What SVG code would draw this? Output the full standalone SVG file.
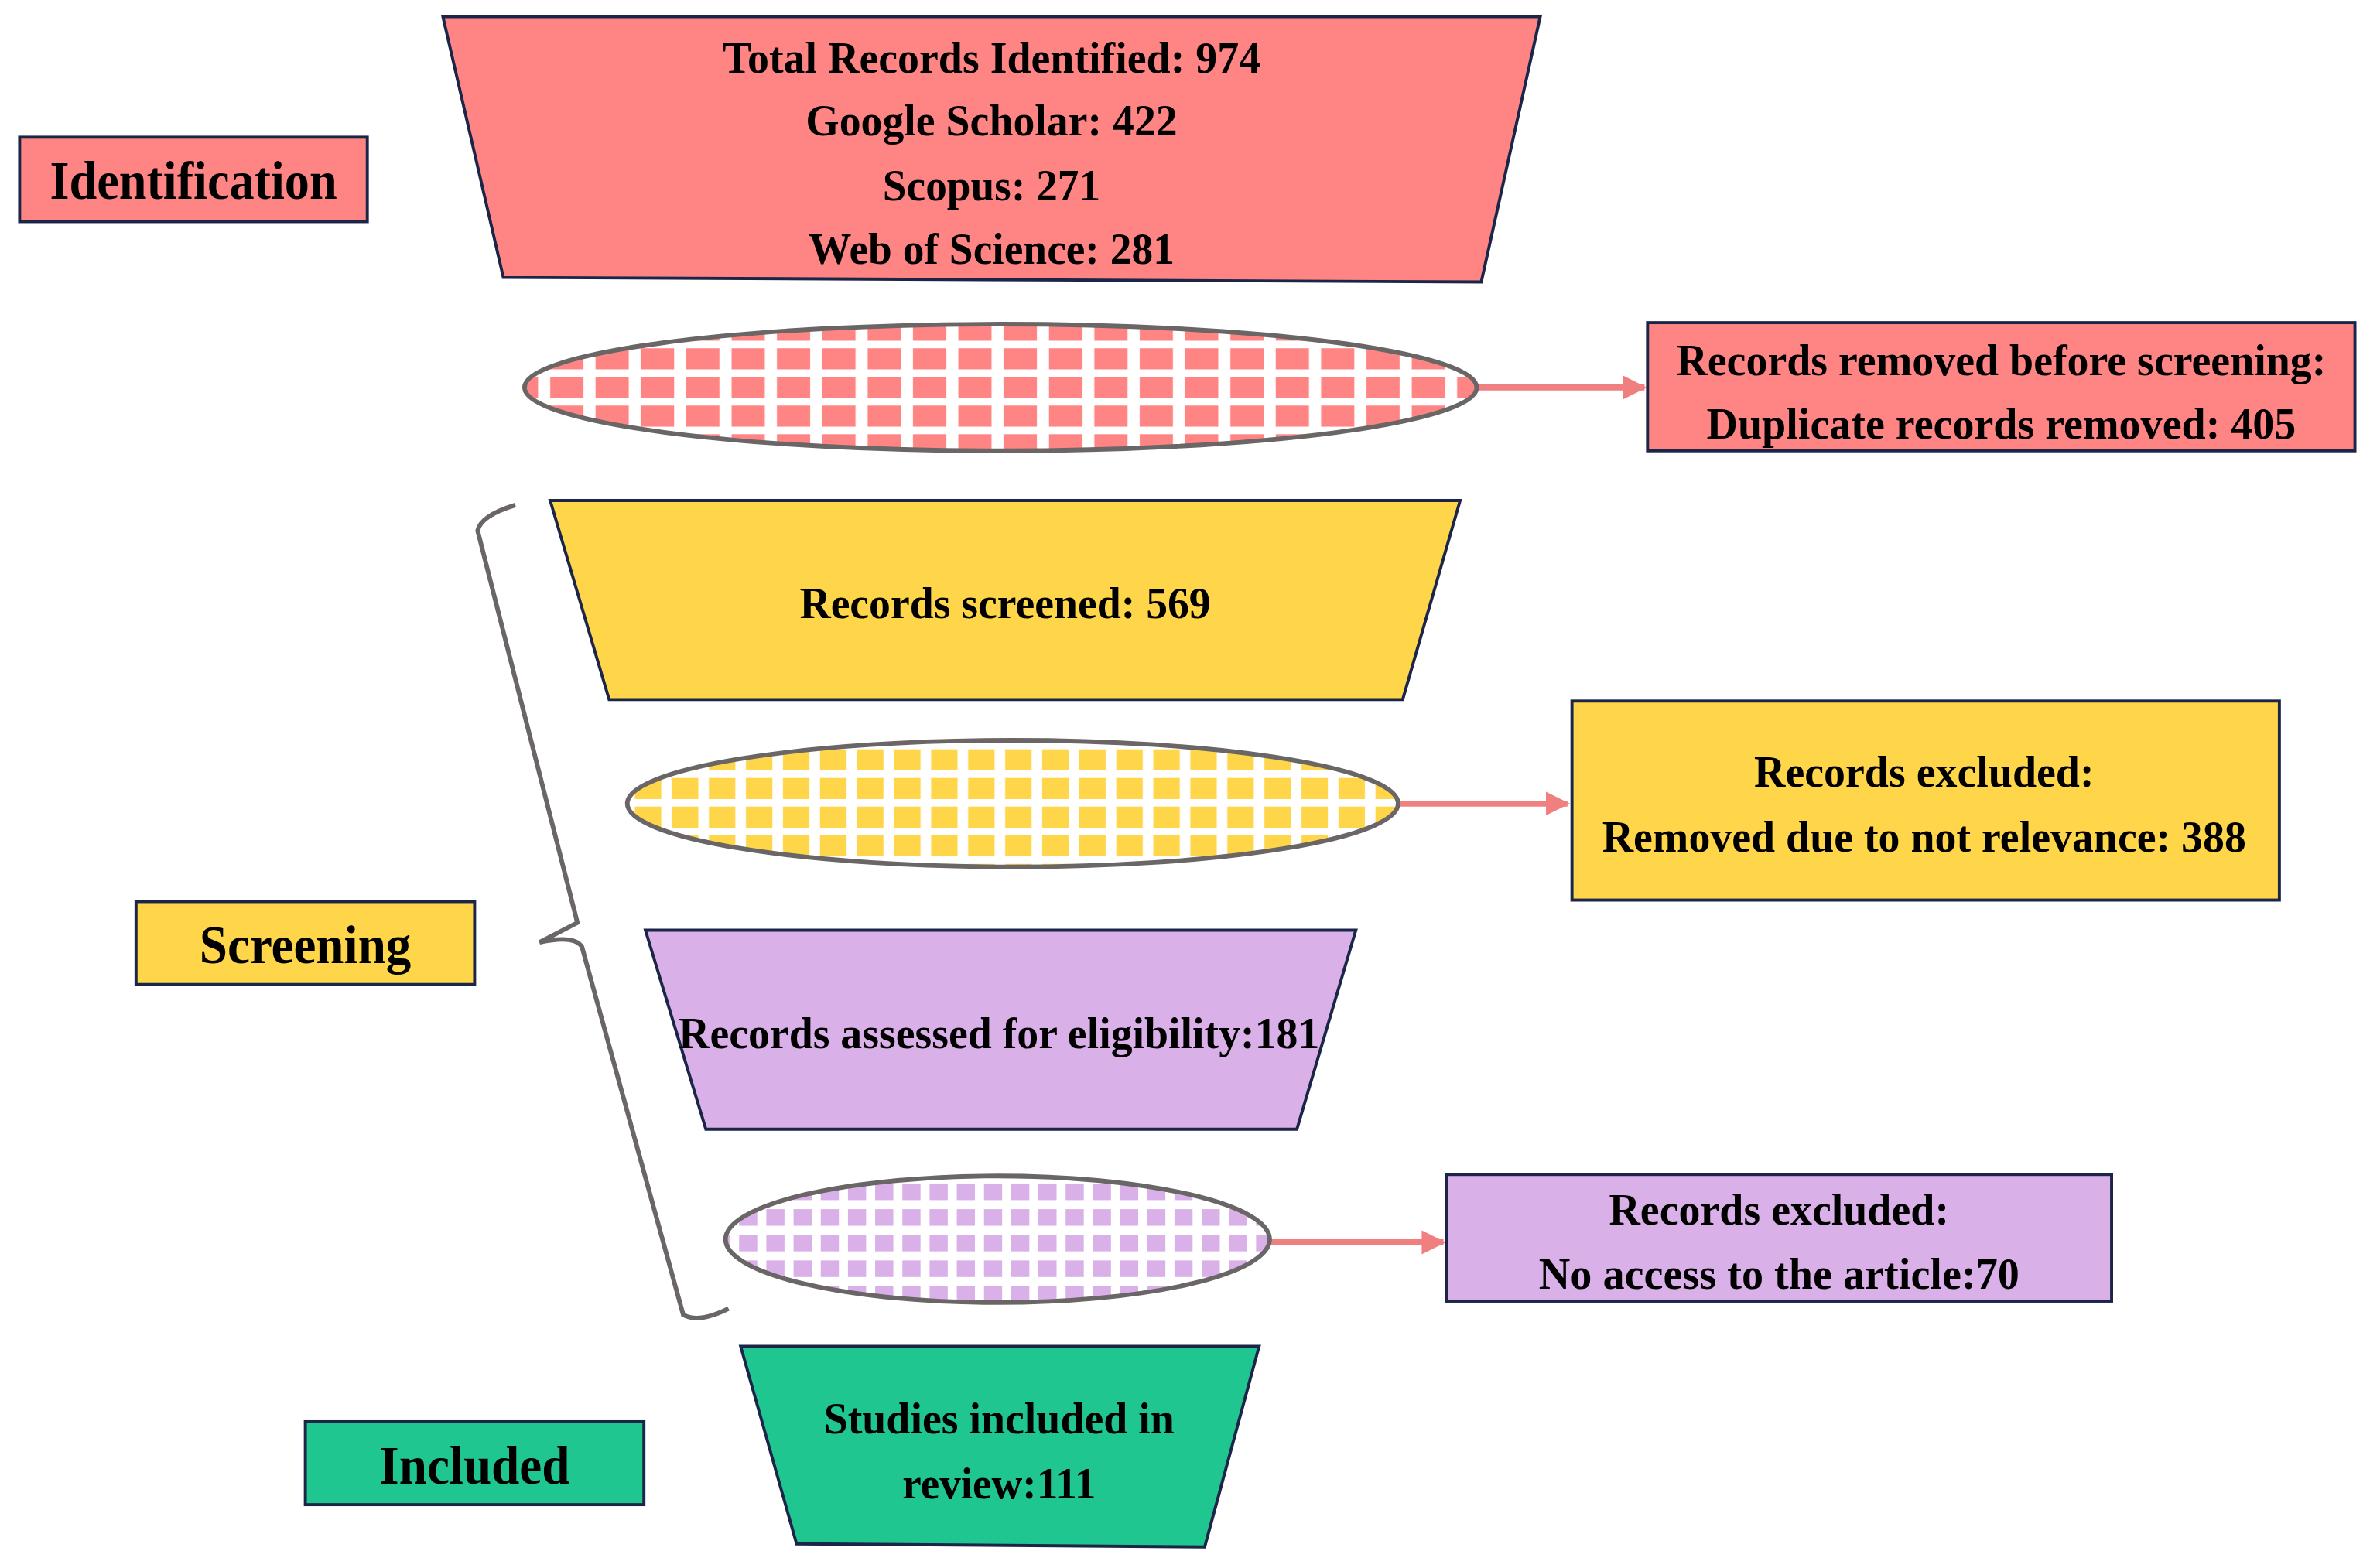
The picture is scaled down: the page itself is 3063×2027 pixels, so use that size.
<svg xmlns="http://www.w3.org/2000/svg" width="3063" height="2027" viewBox="0 0 3063 2027">
<style>
.t{font-family:"Liberation Serif","Times New Roman",serif;font-weight:bold;font-size:29px;fill:#000;text-anchor:middle}
.lab{font-size:36px}
.bx{stroke:#1B2548;stroke-width:2}
.el{stroke:#6B6666;stroke-width:3}
.ar{stroke:#F08080;stroke-width:4;fill:none;marker-end:url(#ah)}
</style>
<defs>
<marker id="ah" viewBox="0 0 10 10" refX="9" refY="5" markerWidth="4" markerHeight="4" orient="auto" markerUnits="strokeWidth"><path d="M0,0L10,5L0,10z" fill="#F08080"/></marker>
<pattern id="p1" patternUnits="userSpaceOnUse" width="30" height="19" x="0" y="0"><rect width="30" height="19" fill="#fff"/><rect x="4" y="3" width="22" height="14" fill="#FF8585"/></pattern>
<pattern id="p2" patternUnits="userSpaceOnUse" width="24.5" height="19" x="0" y="0"><rect width="24.5" height="19" fill="#fff"/><rect x="3.5" y="3" width="17.5" height="14" fill="#FFD54A"/></pattern>
<pattern id="p3" patternUnits="userSpaceOnUse" width="18" height="17" x="0" y="0"><rect width="18" height="17" fill="#fff"/><rect x="3" y="3" width="12" height="11" fill="#DAB0E8"/></pattern>
</defs>
<rect width="3063" height="2027" fill="#fff"/>
<g transform="scale(1.9535,1.949)">
<g id="connectors">
<line class="ar" x1="977" y1="257" x2="1088" y2="257"/>
<line class="ar" x1="925" y1="533" x2="1037" y2="533"/>
<line class="ar" x1="840" y1="824" x2="955" y2="824"/>
<path d="M341,335 Q318,342 316,352 L382,612 L357,625 Q380,620 385,628 L452,872 Q462,878 482,868" fill="none" stroke="#6B6666" stroke-width="3"/>
</g>
<g id="identification"><rect class="bx" x="13" y="91" width="230" height="56" fill="#FF8585"/><text class="t lab" x="128" y="132" textLength="190" lengthAdjust="spacingAndGlyphs">Identification</text></g>
<g id="screening"><rect class="bx" x="90" y="598" width="224" height="55" fill="#FFD54A"/><text class="t lab" x="202" y="639" textLength="140" lengthAdjust="spacingAndGlyphs">Screening</text></g>
<g id="included"><rect class="bx" x="202" y="943" width="224" height="55" fill="#20C690"/><text class="t lab" x="314" y="984" textLength="126" lengthAdjust="spacingAndGlyphs">Included</text></g>
<g id="total"><path class="bx" d="M293,11L1019,11L980,187L333,184Z" fill="#FF8585"/>
<text class="t" x="656" y="48" textLength="356" lengthAdjust="spacingAndGlyphs">Total Records Identified: 974</text>
<text class="t" x="656" y="90" textLength="246" lengthAdjust="spacingAndGlyphs">Google Scholar: 422</text>
<text class="t" x="656" y="133" textLength="144" lengthAdjust="spacingAndGlyphs">Scopus: 271</text>
<text class="t" x="656" y="175" textLength="242" lengthAdjust="spacingAndGlyphs">Web of Science: 281</text></g>
<g id="filter1"><ellipse class="el" cx="662" cy="257" rx="315" ry="42" fill="url(#p1)"/></g>
<g id="removed"><rect class="bx" x="1090" y="214" width="468" height="85" fill="#FF8585"/>
<text class="t" x="1324" y="249" textLength="430" lengthAdjust="spacingAndGlyphs">Records removed before screening:</text>
<text class="t" x="1324" y="291" textLength="390" lengthAdjust="spacingAndGlyphs">Duplicate records removed: 405</text></g>
<g id="screened"><path class="bx" d="M364,332L966,332L928,464L403,464Z" fill="#FFD54A"/>
<text class="t" x="665" y="410" textLength="272" lengthAdjust="spacingAndGlyphs">Records screened: 569</text></g>
<g id="filter2"><ellipse class="el" cx="670" cy="533" rx="255" ry="42" fill="url(#p2)"/></g>
<g id="excluded1"><rect class="bx" x="1040" y="465" width="468" height="132" fill="#FFD54A"/>
<text class="t" x="1273" y="522" textLength="225" lengthAdjust="spacingAndGlyphs">Records excluded:</text>
<text class="t" x="1273" y="565" textLength="426" lengthAdjust="spacingAndGlyphs">Removed due to not relevance: 388</text></g>
<g id="assessed"><path class="bx" d="M427,617L897,617L858,749L467,749Z" fill="#DAB0E8"/>
<text class="t" x="661" y="695" textLength="424" lengthAdjust="spacingAndGlyphs">Records assessed for eligibility:181</text></g>
<g id="filter3"><ellipse class="el" cx="660" cy="822" rx="180" ry="42" fill="url(#p3)"/></g>
<g id="excluded2"><rect class="bx" x="957" y="779" width="440" height="84" fill="#DAB0E8"/>
<text class="t" x="1177" y="812" textLength="225" lengthAdjust="spacingAndGlyphs">Records excluded:</text>
<text class="t" x="1177" y="855" textLength="318" lengthAdjust="spacingAndGlyphs">No access to the article:70</text></g>
<g id="studies"><path class="bx" d="M490,893L833,893L797,1026L527,1024Z" fill="#20C690"/>
<text class="t" x="661" y="951" textLength="232" lengthAdjust="spacingAndGlyphs">Studies included in</text>
<text class="t" x="661" y="994" textLength="128" lengthAdjust="spacingAndGlyphs">review:111</text></g>
</g>
</svg>
